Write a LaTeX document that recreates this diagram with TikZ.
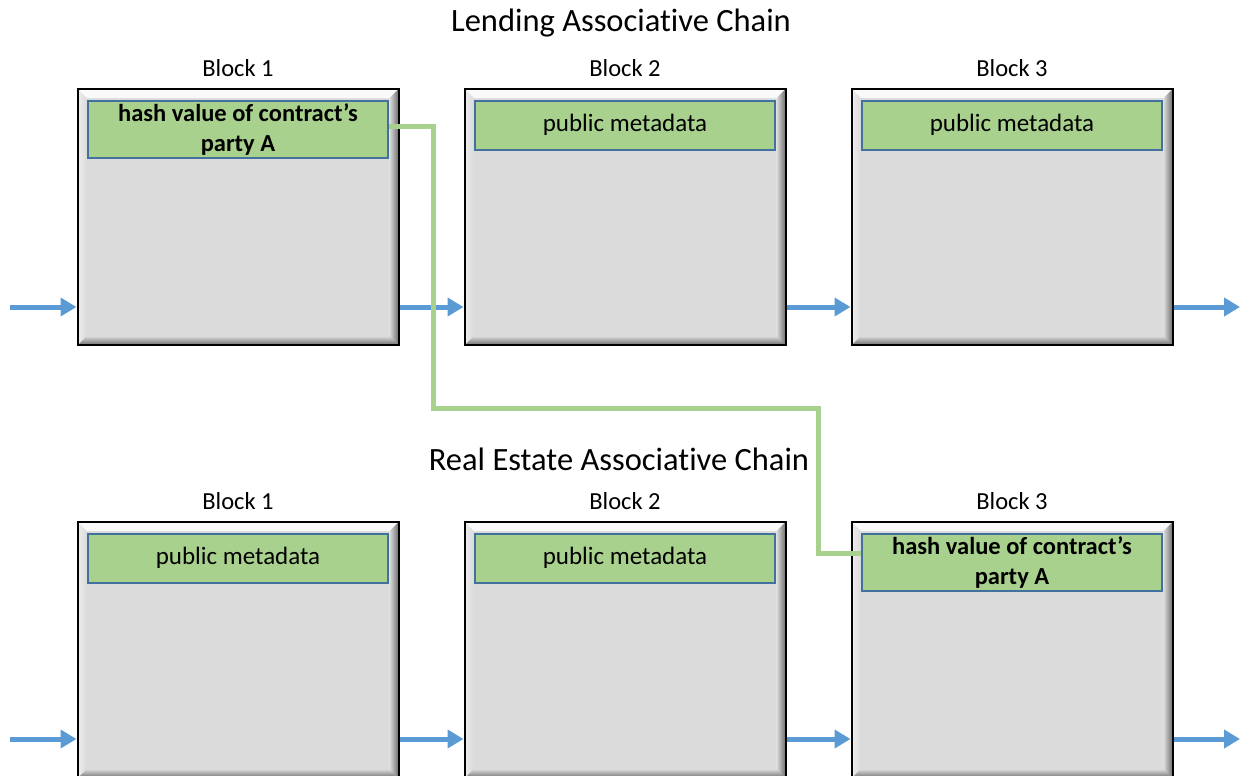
\documentclass[tikz,border=0pt]{standalone}
\usepackage{fontspec}
\setmainfont{Carlito}[Ligatures=NoCommon]
\usepackage{tikz}
\usetikzlibrary{positioning}
\usetikzlibrary{arrows.meta}
\definecolor{blockfill}{RGB}{220,219,220}
\definecolor{bevlight}{RGB}{250,250,250}
\definecolor{bevdark}{RGB}{110,110,110}
\definecolor{metagreen}{RGB}{169,209,142}
\definecolor{metaedge}{RGB}{65,113,156}
\definecolor{chainblue}{RGB}{91,155,213}

\begin{document}
\begin{tikzpicture}[x=1pt, y=-1pt,
    block/.style={draw=black, line width=2pt, fill=blockfill, inner sep=0pt,
      minimum width=321pt, minimum height=256pt,
      path picture={
        \shade[top color=bevlight, bottom color=blockfill] (path picture bounding box.north west) -- (path picture bounding box.north east)
          -- ([shift={(-9pt,-9pt)}]path picture bounding box.north east) -- ([shift={(9pt,-9pt)}]path picture bounding box.north west) -- cycle;
        \shade[top color=blockfill, bottom color=bevdark] (path picture bounding box.south west) -- (path picture bounding box.south east)
          -- ([shift={(-9pt,9pt)}]path picture bounding box.south east) -- ([shift={(9pt,9pt)}]path picture bounding box.south west) -- cycle;
        \shade[left color=bevlight!60!blockfill, right color=blockfill] (path picture bounding box.north west) -- (path picture bounding box.south west)
          -- ([shift={(9pt,9pt)}]path picture bounding box.south west) -- ([shift={(9pt,-9pt)}]path picture bounding box.north west) -- cycle;
        \shade[left color=blockfill, right color=bevdark] (path picture bounding box.north east) -- (path picture bounding box.south east)
          -- ([shift={(-9pt,9pt)}]path picture bounding box.south east) -- ([shift={(-9pt,-9pt)}]path picture bounding box.north east) -- cycle;
      }},
    blocklabel/.style={inner sep=0pt, font=\fontsize{24.5}{30}\selectfont},
    chaintitle/.style={inner sep=0pt, font=\fontsize{32.5}{38}\selectfont},
    meta/.style={draw=metaedge, line width=1.5pt, fill=metagreen, inner sep=0pt,
      minimum width=300pt, minimum height=49pt, font=\fontsize{25}{30}\selectfont},
    hashbox/.style={meta, minimum height=57pt, align=center, font=\fontsize{24.5}{30}\selectfont\bfseries},
    chain/.style={draw=chainblue, line width=5pt, -{Triangle[length=16pt,width=18pt]}},
    link/.style={draw=metagreen, line width=5pt}
  ]
  \useasboundingbox (0,0) rectangle (1248,776);

  % Lending chain
  \node[chaintitle] (lendtitle) at (621,23) {Lending Associative Chain};
  \node[block] (a1) at (238,217) {};
  \node[block] (a2) at (625,217) {};
  \node[block] (a3) at (1012,217) {};
  \node[blocklabel, above=11pt of a1] (a1lab) {Block 1};
  \node[blocklabel, above=11pt of a2] (a2lab) {Block 2};
  \node[blocklabel, above=11pt of a3] (a3lab) {Block 3};
  \node[hashbox, below=12pt of a1.north] (ahash) {hash value of contract’s\\party A};
  \node[meta, below=12pt of a2.north] (am2) {public metadata};
  \node[meta, below=12pt of a3.north] (am3) {public metadata};

  % Real estate chain
  \node[chaintitle] (estatetitle) at (619,459) {Real Estate Associative Chain};
  \node[block] (b1) at (238,650) {};
  \node[block] (b2) at (625,650) {};
  \node[block] (b3) at (1012,650) {};
  \node[blocklabel, above=11pt of b1] (b1lab) {Block 1};
  \node[blocklabel, above=11pt of b2] (b2lab) {Block 2};
  \node[blocklabel, above=11pt of b3] (b3lab) {Block 3};
  \node[meta, below=12pt of b1.north] (bm1) {public metadata};
  \node[meta, below=12pt of b2.north] (bm2) {public metadata};
  \node[hashbox, below=12pt of b3.north] (bhash) {hash value of contract’s\\party A};

  % Chain arrows
  \coordinate (ain) at (10,307);
  \coordinate (aout) at (1240,307);
  \coordinate (bin) at (10,739);
  \coordinate (bout) at (1240,739);
  \draw[chain] (ain) -- (a1.west |- ain);
  \draw[chain] (a1.east |- ain) -- (a2.west |- ain);
  \draw[chain] (a2.east |- ain) -- (a3.west |- ain);
  \draw[chain] (a3.east |- ain) -- (aout);
  \draw[chain] (bin) -- (b1.west |- bin);
  \draw[chain] (b1.east |- bin) -- (b2.west |- bin);
  \draw[chain] (b2.east |- bin) -- (b3.west |- bin);
  \draw[chain] (b3.east |- bin) -- (bout);

  % Link between the two hash values
  \coordinate (bend1) at (433,408);
  \coordinate (bend2) at (818,408);
  \draw[link] ([yshift=3pt]ahash.east) -| (bend1) -- (bend2) |- ([yshift=9pt]bhash.west);
\end{tikzpicture}
\end{document}
